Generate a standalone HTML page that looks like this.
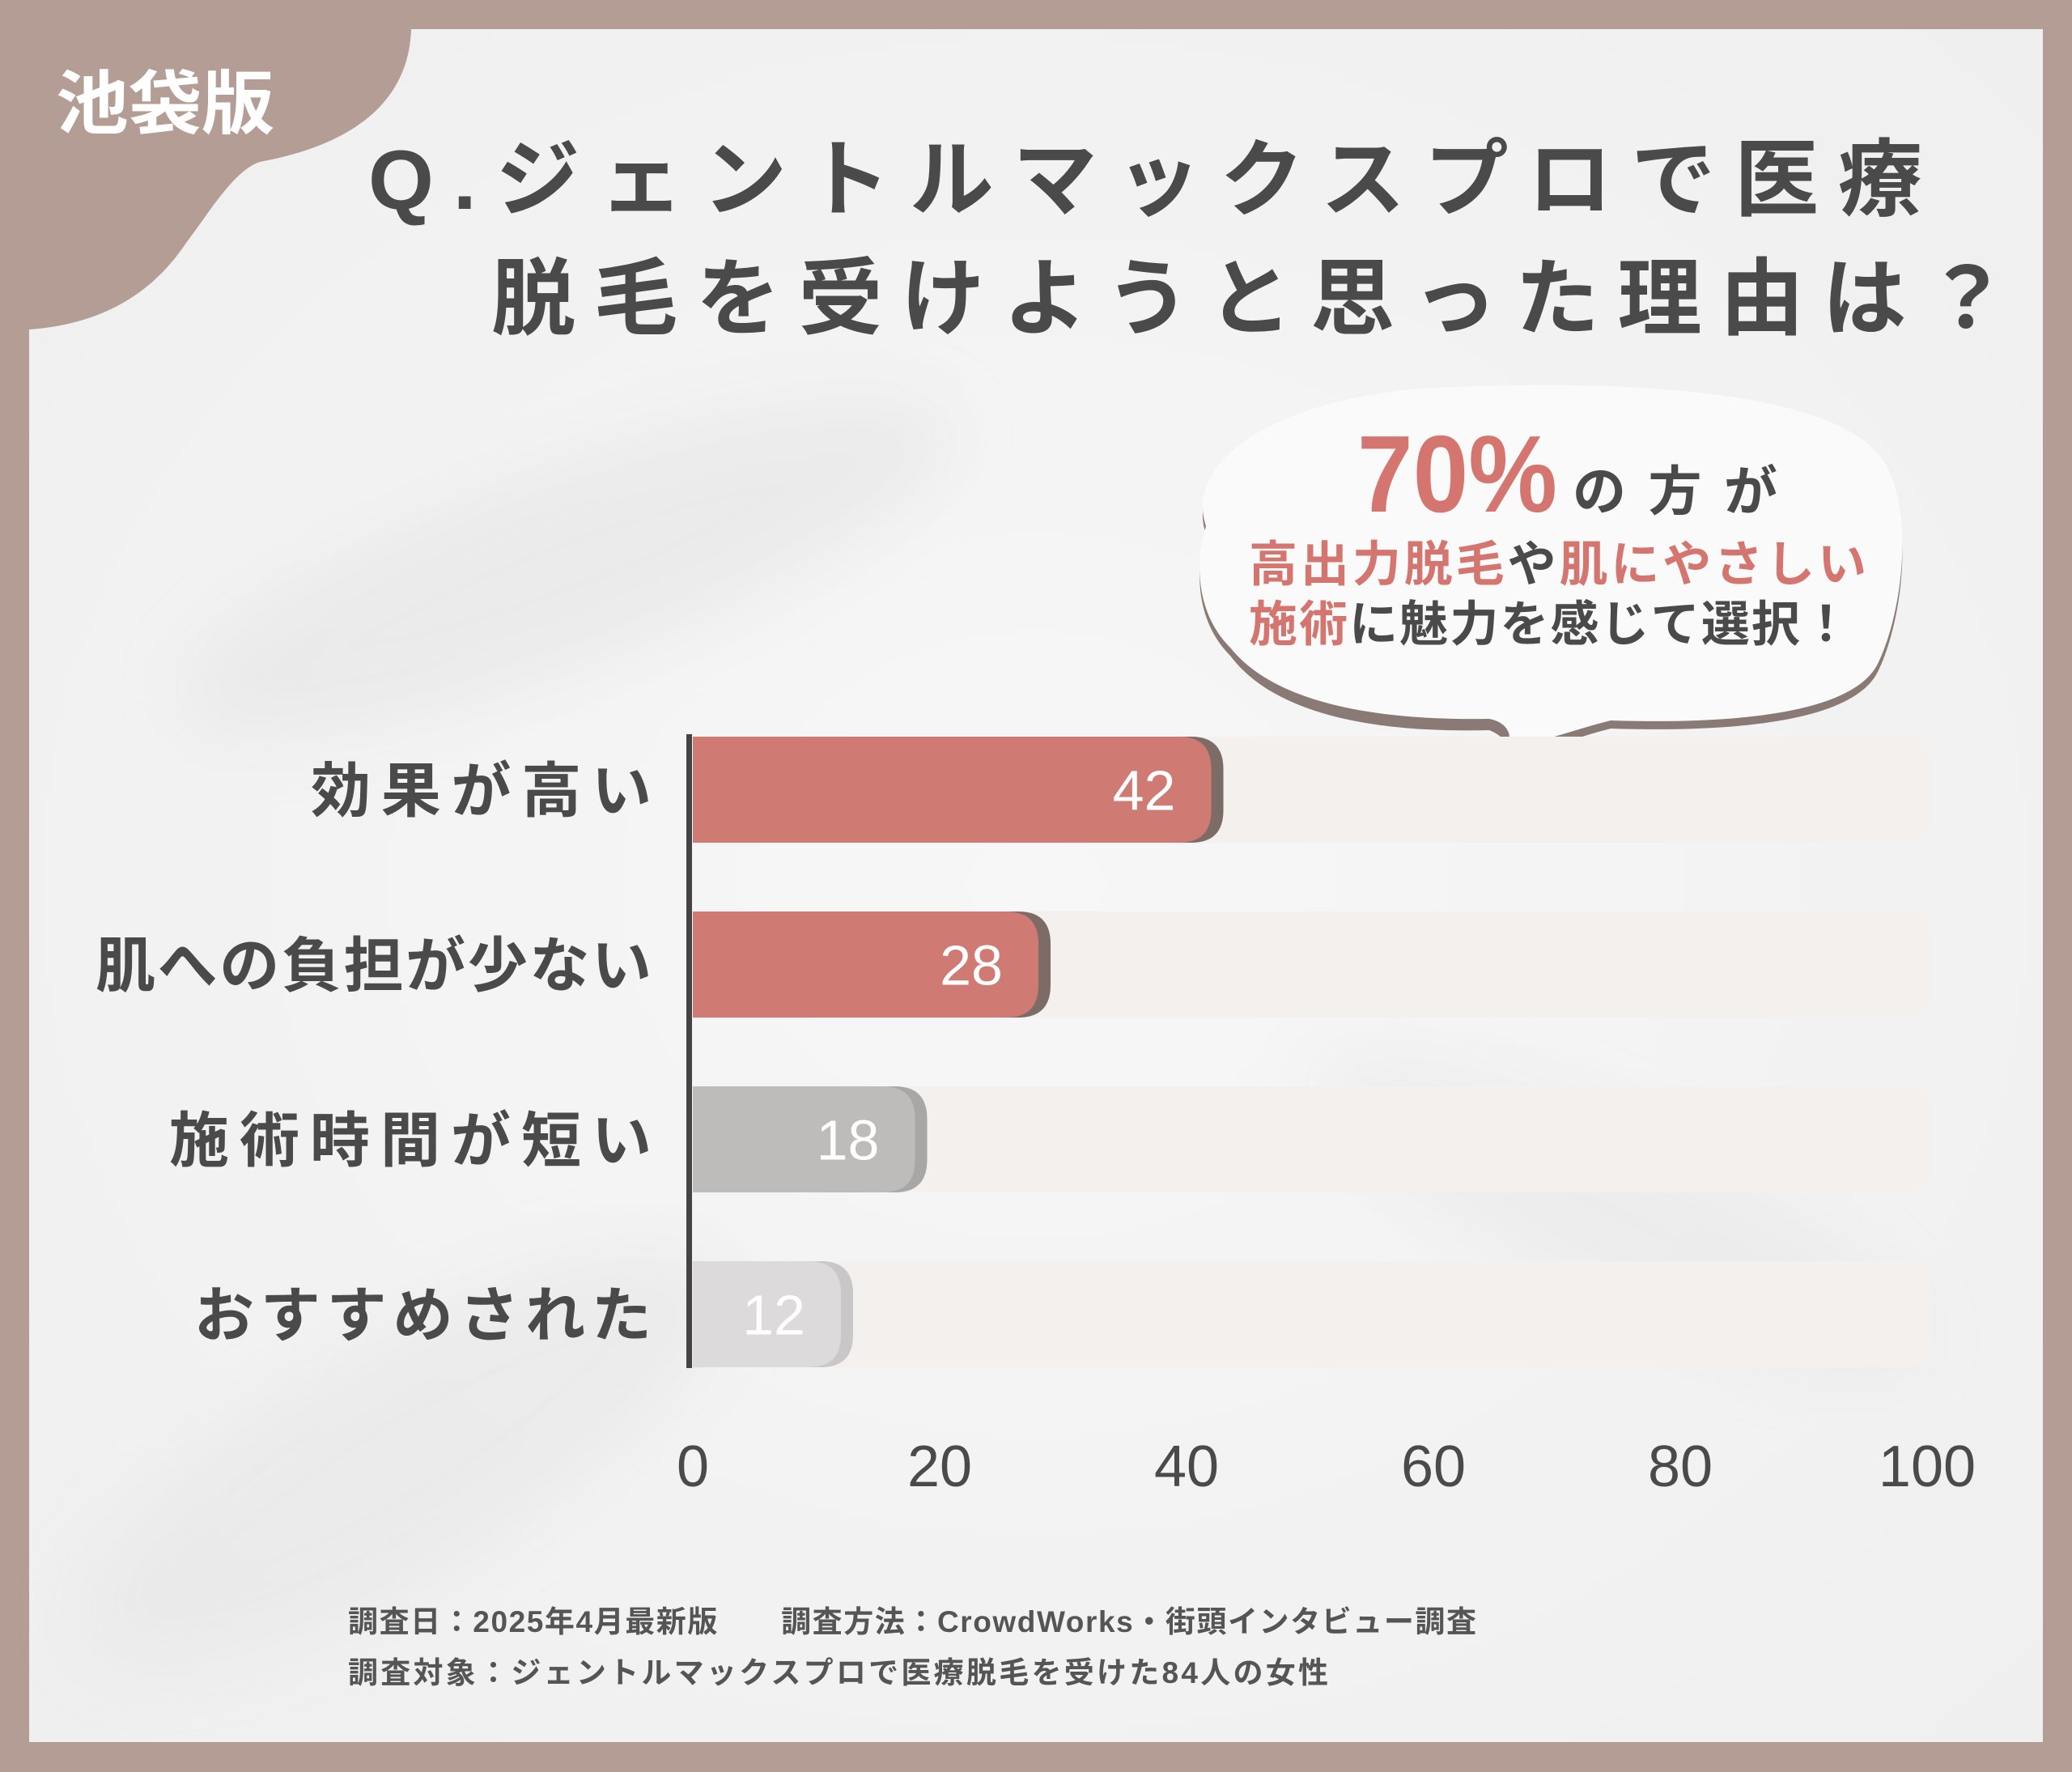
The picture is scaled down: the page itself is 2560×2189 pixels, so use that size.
<!DOCTYPE html>
<html><head><meta charset="utf-8"><style>
html,body{margin:0;padding:0;width:2560px;height:2189px;overflow:hidden;background:#b39d94}
svg{display:block}
text{font-family:"Liberation Sans","Noto Sans CJK JP",sans-serif}
</style></head><body>
<svg id="chart" width="2560" height="2189" viewBox="0 0 2560 2189" xmlns="http://www.w3.org/2000/svg">
<defs>
<radialGradient id="bgg" cx="0.5" cy="0.5" r="0.7">
<stop offset="0" stop-color="#f7f7f7"/><stop offset="1" stop-color="#efefef"/>
</radialGradient>
<filter id="blur"><feGaussianBlur stdDeviation="40"/></filter>
</defs>
<rect x="0" y="0" width="2560" height="2189" fill="#b39d94"/>
<rect x="36" y="36" width="2488" height="2116" fill="url(#bgg)"/>
<g filter="url(#blur)" opacity="0.5">
<ellipse cx="700" cy="700" rx="500" ry="120" fill="#e2e2e2" transform="rotate(-20 700 700)"/>
<ellipse cx="500" cy="1800" rx="450" ry="140" fill="#e4e4e4" transform="rotate(-30 500 1800)"/>
<ellipse cx="2000" cy="1500" rx="400" ry="100" fill="#e6e6e6" transform="rotate(25 2000 1500)"/>
</g>
<path d="M0 0 L510 0 L508 36 C505 130 430 180 321 200 C290 210 260 260 230 300 C190 360 130 400 36 407 L36 440 L0 440 Z" fill="#b39d94"/>
<text x="69" y="158" font-size="86" font-weight="700" fill="#fff" textLength="270" lengthAdjust="spacingAndGlyphs">池袋版</text>
<text x="455" y="258" font-size="104" font-weight="700" fill="#4a4a4a" textLength="1920" lengthAdjust="spacing">Q.ジェントルマックスプロで医療</text>
<text x="607" y="405" font-size="104" font-weight="700" fill="#4a4a4a" textLength="1875" lengthAdjust="spacing">脱毛を受けようと思った理由は？</text>

<g>
<path d="M1490 650 C1460 560 1600 482 1800 478 C2000 470 2250 480 2320 560 C2370 620 2350 760 2320 820 C2290 880 2150 895 1990 890 C1950 900 1910 915 1863 935 C1870 915 1860 900 1840 892 C1720 895 1580 880 1520 800 C1480 760 1475 700 1490 650 Z" fill="#8a7a76" transform="translate(0,10)"/>
<path d="M1490 650 C1460 560 1600 482 1800 478 C2000 470 2250 480 2320 560 C2370 620 2350 760 2320 820 C2290 880 2150 895 1990 890 C1950 900 1910 915 1863 925 C1870 905 1860 892 1840 888 C1720 890 1580 875 1520 800 C1480 760 1475 700 1490 650 Z" fill="#fafafa"/>
<text x="1677" y="632" font-size="135" font-weight="700" fill="#d4766f" textLength="247" lengthAdjust="spacingAndGlyphs">70%</text>
<text x="1943" y="630" font-size="66" font-weight="700" fill="#4a4a4a" textLength="253" lengthAdjust="spacing">の方が</text>
<text x="1543" y="718" font-size="60" font-weight="700" fill="#d4766f" textLength="763" lengthAdjust="spacing">高出力脱毛<tspan fill="#4a4a4a">や</tspan>肌にやさしい</text>
<text x="1543" y="792" font-size="60" font-weight="700" fill="#d4766f" textLength="743" lengthAdjust="spacing">施術<tspan fill="#4a4a4a">に魅力を感じて選択！</tspan></text>
</g>
<circle cx="1768" cy="975" r="23" fill="#999"/>
<circle cx="1768" cy="968" r="23" fill="#fafafa"/>
<circle cx="1716" cy="998" r="11" fill="#999"/>
<circle cx="1716" cy="994" r="11" fill="#fafafa"/>

<g id="bars"></g>
<g id="cats"></g>
<g id="ticks"></g>
<rect x="848" y="907" width="7" height="783" fill="#444"/>

<text x="430" y="2016" font-size="37" font-weight="700" fill="#555" textLength="1394" lengthAdjust="spacing">調査日：2025年4月最新版　　調査方法：CrowdWorks・街頭インタビュー調査</text>
<text x="430" y="2079" font-size="37" font-weight="700" fill="#555" textLength="1211" lengthAdjust="spacing">調査対象：ジェントルマックスプロで医療脱毛を受けた84人の女性</text>
</svg>
<script>
const categories = ["効果が高い","肌への負担が少ない","施術時間が短い","おすすめされた"];
const values = [42, 28, 18, 12];
const tickValues = [0, 20, 40, 60, 80, 100];
const tickLabels = ["0","20","40","60","80","100"];

const NS = "http://www.w3.org/2000/svg";
const x0 = 856, x1 = 2381;
const xs = v => x0 + (v / 100) * (x1 - x0);
const rowTop = 910, rowStep = 216, barH = 131;
const ys = i => rowTop + i * rowStep;
const fills = ["#d07a74","#d07a74","#bebcbb","#dcdadb"];
const shades = ["#7d6b66","#7d6b66","#a9a7a6","#c9c7c7"];
const labelLen = [421, 687, 596, 565];
function mk(tag, attrs){const e=document.createElementNS(NS,tag);for(const k in attrs)e.setAttribute(k,attrs[k]);return e;}
function barPath(xa, xb, y, h, r){
  return `M${xa} ${y} L${xb-r} ${y} Q${xb} ${y} ${xb} ${y+r} L${xb} ${y+h-r} Q${xb} ${y+h} ${xb-r} ${y+h} L${xa} ${y+h} Z`;
}
const gb = document.getElementById('bars');
const gc = document.getElementById('cats');
const gt = document.getElementById('ticks');
categories.forEach((c, i) => {
  const y = ys(i);
  const track = mk('path', {d: barPath(x0, xs(100)+4, y, barH, 30), fill: '#f3f0ee'});
  
  
  gb.appendChild(track);
  const xe = xs(values[i]);
  const sh = mk('path', {d: barPath(x0, xe + 15, y, barH, 40), fill: shades[i]});
  
  
  gb.appendChild(sh);
  const b = mk('path', {d: barPath(x0, xe, y, barH, 40), fill: fills[i]});
  
  
  gb.appendChild(b);
  const vl = mk('text', {x: xe - 44, y: y + barH/2 + 25, 'font-size': 70, fill: '#fff', 'text-anchor': 'end', style: 'font-family:"Liberation Sans Narrow","Liberation Sans",sans-serif'});
  vl.textContent = values[i];
  
  
  gb.appendChild(vl);
  const cl = mk('text', {x: 805, y: y + barH/2 + 27, 'font-size': 74, 'font-weight': 700, fill: '#4a4a4a', 'text-anchor': 'end', textLength: labelLen[i] || (c.length * 78), lengthAdjust: 'spacing'});
  cl.textContent = c;
  
  
  gc.appendChild(cl);
});
tickValues.forEach((t, i) => {
  const tl = mk('text', {x: xs(t), y: 1836, 'font-size': 72, fill: '#4a4a4a', 'text-anchor': 'middle'});
  tl.textContent = tickLabels[i];
  
  
  gt.appendChild(tl);
});
</script>
</body></html>
